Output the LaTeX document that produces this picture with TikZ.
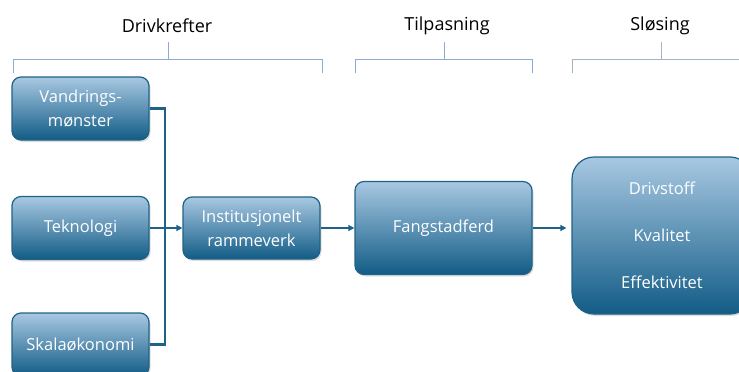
\documentclass[tikz,border=0pt]{standalone}
\usepackage{fontspec}
\setmainfont{Open Sans}
\usepackage{tikz}
\usetikzlibrary{calc,arrows.meta,shadows}

\definecolor{boxtop}{RGB}{168,200,226}
\definecolor{boxbot}{RGB}{18,92,134}
\definecolor{boxline}{RGB}{31,98,135}
\definecolor{bracecol}{RGB}{142,170,219}
\definecolor{bracegrey}{RGB}{160,182,200}

\begin{document}
\begin{tikzpicture}[x=1pt,y=1pt,yscale=-1,xscale=1,
    box/.style={draw=boxline,line width=1.2pt,rounded corners=9pt,
        top color=boxtop,bottom color=boxbot,text=white,align=center,
        font=\fontsize{16.5}{24}\selectfont,
        drop shadow={opacity=0.25,shadow xshift=1.5pt,shadow yshift=-2pt}},
    link/.style={draw=boxline,line width=2.2pt},
    linkarrow/.style={link,-{Triangle[length=6pt,width=6pt]}},
    brace/.style={draw=bracecol,line width=1pt},
    heading/.style={font=\fontsize{18}{21}\selectfont,text=black}]
    \useasboundingbox (0,0) rectangle (739,372);
    %Headings
    \node[heading] (hdrive) at (167,26) {Drivkrefter};
    \node[heading] (hadapt) at (447,26) {Tilpasning};
    \node[heading] (hwaste) at (660,26) {Sløsing};
    %Brackets
    \draw[brace] (13,73) -- (13,59) -- (322,59) -- (322,73) (168,59) -- (168,42);
    \draw[brace] (355,73) -- (355,59) -- (532,59) -- (532,73) (444,59) -- (444,42);
    \draw[brace,draw=bracegrey] (572,73) -- (572,59) -- (745,59) (661,59) -- (661,42);
    %Driver boxes
    \node[box,minimum width=137,minimum height=63] (vand) at (80.5,108.5) {Vandrings-\\mønster};
    \node[box,minimum width=137,minimum height=63] (tekn) at (80.5,228) {Teknologi};
    \node[box,minimum width=137,minimum height=63] (skal) at (80.5,344.5) {Skalaøkonomi};
    %Framework, behaviour and waste
    \node[box,minimum width=137,minimum height=62] (inst) at (251.5,228) {Institusjonelt\\rammeverk};
    \node[box,minimum width=177,minimum height=93] (fang) at (443.5,228) {Fangstadferd};
    \node[box,minimum width=180,minimum height=157,rounded corners=22pt] (slos) at (662,235.5)
        {Drivstoff\\[23pt]Kvalitet\\[23pt]Effektivitet};
    %Connectors
    \coordinate (join) at (165,228);
    \draw[link] (vand.east) -| (join);
    \draw[link] (skal.east) -| (join);
    \draw[linkarrow] (tekn.east) -- (inst.west);
    \draw[linkarrow] (inst.east) -- (fang.west);
    \draw[linkarrow,shorten >=5pt] (fang.east) -- (fang.east -| slos.west);
\end{tikzpicture}
\end{document}
